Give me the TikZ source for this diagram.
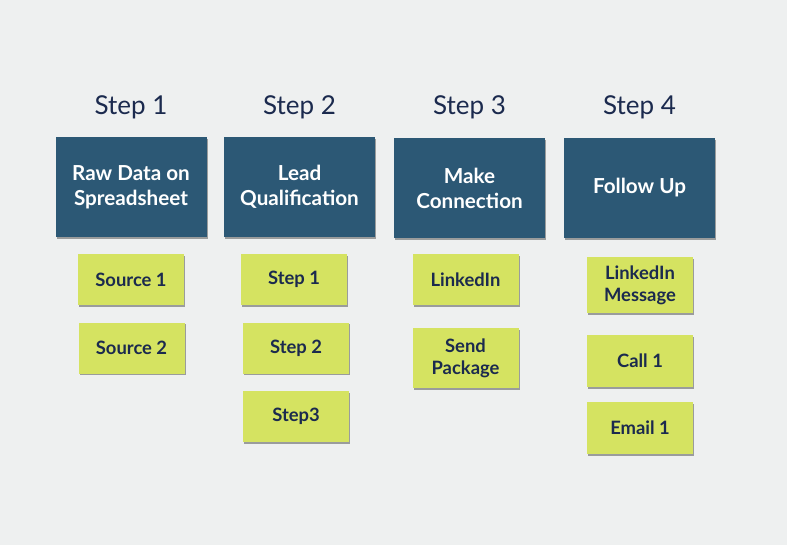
\documentclass[tikz,border=0pt]{standalone}
\usepackage{fontspec}
\setmainfont{Lato}
\usepackage{tikz}
\usetikzlibrary{positioning,shadows}
\definecolor{bgGrey}{HTML}{EEF0F0}
\definecolor{stepBlue}{HTML}{2C5875}
\definecolor{taskGreen}{HTML}{D5E361}
\definecolor{inkNavy}{HTML}{1B2A4E}
\begin{document}
\begin{tikzpicture}[
  x=0.75pt,y=-0.75pt,
  stephead/.style={
    text=inkNavy,
    font=\fontsize{19.5}{22}\selectfont
  },
  stagebox/.style={
    fill=stepBlue,
    text=white,
    align=center,
    inner sep=0pt,
    minimum width=113.25pt,
    minimum height=75pt,
    font=\bfseries\fontsize{15.5}{18.75}\selectfont,
    drop shadow={shadow xshift=0.8pt,shadow yshift=-1.2pt,opacity=0.35,fill=black}
  },
  taskbox/.style={
    fill=taskGreen,
    text=inkNavy,
    align=center,
    inner sep=0pt,
    minimum width=79.5pt,
    minimum height=38.25pt,
    font=\bfseries\fontsize{13.8}{16.5}\selectfont,
    drop shadow={shadow xshift=0.8pt,shadow yshift=-1.2pt,opacity=0.35,fill=black}
  }
]
  \fill[bgGrey] (0,0) rectangle (787,545);
  \useasboundingbox (0,0) rectangle (787,545);

  \node[stephead] (h1) at (131,107) {Step 1};
  \node[stephead] (h2) at (299.5,107) {Step 2};
  \node[stephead] (h3) at (469.5,107) {Step 3};
  \node[stephead] (h4) at (639.5,107) {Step 4};

  \node[stagebox] (b1) at (131,187) {Raw Data on\\Spreadsheet};
  \node[stagebox] (b2) at (299.5,187) {Lead\\Qualification};
  \node[stagebox] (b3) at (469.5,188) {Make\\Connection};
  \node[stagebox] (b4) at (639.5,188) {Follow Up};

  \node[taskbox] (t11) at (131,279.5) {Source 1};
  \node[taskbox] (t12) at (131.5,348) {Source 2};

  \node[taskbox] (t21) at (294,279.5) {Step 1};
  \node[taskbox] (t22) at (296,348) {Step 2};
  \node[taskbox] (t23) at (296,416.5) {Step3};

  \node[taskbox] (t31) at (465.5,279.5) {LinkedIn};
  \node[taskbox,minimum height=45pt] (t32) at (465.5,358) {Send\\Package};

  \node[taskbox,minimum height=42pt] (t41) at (640,285) {LinkedIn\\Message};
  \node[taskbox,minimum height=39pt] (t42) at (640,361) {Call 1};
  \node[taskbox,minimum height=39pt] (t43) at (640,428) {Email 1};
\end{tikzpicture}
\end{document}
